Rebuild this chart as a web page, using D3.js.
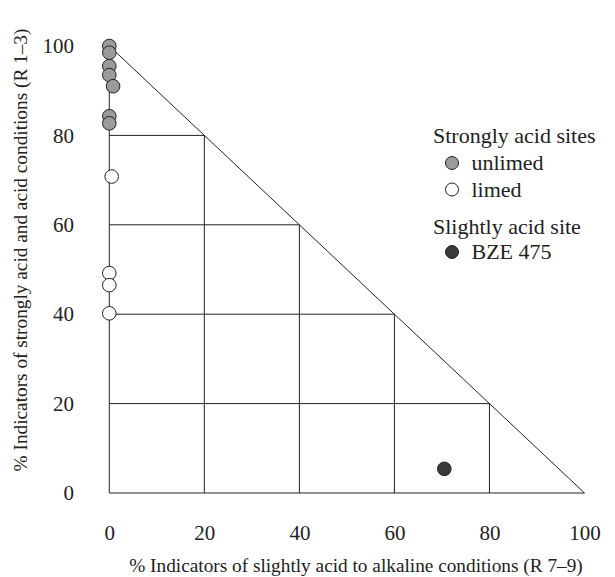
<!DOCTYPE html>
<html>
<head>
<meta charset="utf-8">
<script src="https://cdn.jsdelivr.net/npm/d3@7"></script>
<style>
  body { margin: 0; background: #fff; }
  text { font-family: "Liberation Serif", "DejaVu Serif", serif; fill: #222; }
</style>
</head>
<body>
<div id="chart"></div>
<script>
// % indicators of slightly acid to alkaline (x) vs strongly acid and acid (y)
const unlimedX = [0, 0, 0, 0, 0.8, 0, 0];
const unlimedY = [100, 98.5, 95.5, 93.5, 91, 84.3, 82.7];
const limedX = [0.5, 0, 0, 0];
const limedY = [70.8, 49.2, 46.5, 40.2];
const bzeX = [70.5];
const bzeY = [5.4];
const ticks = [0, 20, 40, 60, 80, 100];
const gridSteps = [20, 40, 60, 80];

const width = 615;
const height = 577;

const x = d3.scaleLinear().domain([0, 100]).range([109.3, 584.5]);
const y = d3.scaleLinear().domain([0, 100]).range([493, 46]);

const svg = d3.select('#chart').append('svg')
    .attr('width', width)
    .attr('height', height);

// triangle frame + grid
const frame = svg.append('g')
    .attr('fill', 'none')
    .attr('stroke', '#222')
    .attr('stroke-width', 1);

frame.append('path')
    .attr('d', d3.line()([[x(0), y(100)], [x(0), y(0)], [x(100), y(0)], [x(0), y(100)]]));

frame.selectAll('.h')
  .data(gridSteps)
  .join('line')
    .attr('class', 'h')
    .attr('x1', x(0))
    .attr('x2', d => x(100 - d))
    .attr('y1', d => y(d))
    .attr('y2', d => y(d));

frame.selectAll('.v')
  .data(gridSteps)
  .join('line')
    .attr('class', 'v')
    .attr('x1', d => x(d))
    .attr('x2', d => x(d))
    .attr('y1', y(0))
    .attr('y2', d => y(100 - d));

// axes: labels only
const tickSize = 21;
const titleSize = 19.3;
const legendSize = 22;

svg.append('g')
    .attr('transform', 'translate(0,540)')
    .call(d3.axisBottom(x).tickValues(ticks).tickSize(0).tickPadding(0))
    .call(g => g.select('.domain').remove())
    .call(g => g.selectAll('text')
        .attr('y', 0)
        .attr('dy', null)
        .attr('font-size', tickSize));

svg.append('g')
    .attr('transform', 'translate(74,0)')
    .call(d3.axisLeft(y).tickValues(ticks).tickSize(0).tickPadding(0))
    .call(g => g.select('.domain').remove())
    .call(g => g.selectAll('text')
        .attr('font-size', tickSize));

svg.selectAll('g.tick text').attr('fill', '#222');
svg.selectAll('g').attr('font-family', null);

svg.append('text')
    .attr('x', 356)
    .attr('y', 572)
    .attr('text-anchor', 'middle')
    .attr('font-size', titleSize)
    .text('% Indicators of slightly acid to alkaline conditions (R 7\u20139)');

svg.append('text')
    .attr('transform', 'translate(27,250) rotate(-90)')
    .attr('text-anchor', 'middle')
    .attr('font-size', titleSize)
    .text('% Indicators of strongly acid and acid conditions (R 1\u20133)');

// points
const r = 6.8;
const series = [
  {xs: unlimedX, ys: unlimedY, fill: '#9b9b9b'},
  {xs: limedX, ys: limedY, fill: '#ffffff'},
  {xs: bzeX, ys: bzeY, fill: '#3a3a3a'}
];

svg.append('g')
  .selectAll('g')
  .data(series)
  .join('g')
    .attr('fill', d => d.fill)
    .attr('stroke', '#222')
    .attr('stroke-width', 1)
  .selectAll('circle')
  .data(d => d.xs.map((v, i) => [v, d.ys[i]]))
  .join('circle')
    .attr('cx', d => x(d[0]))
    .attr('cy', d => y(d[1]))
    .attr('r', r);

// legend
const legend = svg.append('g').attr('font-size', legendSize);
const legendItems = [
  {type: 'title', text: 'Strongly acid sites', y: 143},
  {type: 'item', text: 'unlimed', y: 163, fill: '#9b9b9b'},
  {type: 'item', text: 'limed', y: 189.5, fill: '#ffffff'},
  {type: 'title', text: 'Slightly acid site', y: 234},
  {type: 'item', text: 'BZE 475', y: 252, fill: '#3a3a3a'}
];

legend.selectAll('circle')
  .data(legendItems.filter(d => d.type === 'item'))
  .join('circle')
    .attr('cx', 452)
    .attr('cy', d => d.y)
    .attr('r', 6.5)
    .attr('fill', d => d.fill)
    .attr('stroke', '#222');

legend.selectAll('text')
  .data(legendItems)
  .join('text')
    .attr('x', d => d.type === 'title' ? 433 : 471.5)
    .attr('y', d => d.type === 'title' ? d.y : d.y + 7)
    .text(d => d.text);
</script>
</body>
</html>
